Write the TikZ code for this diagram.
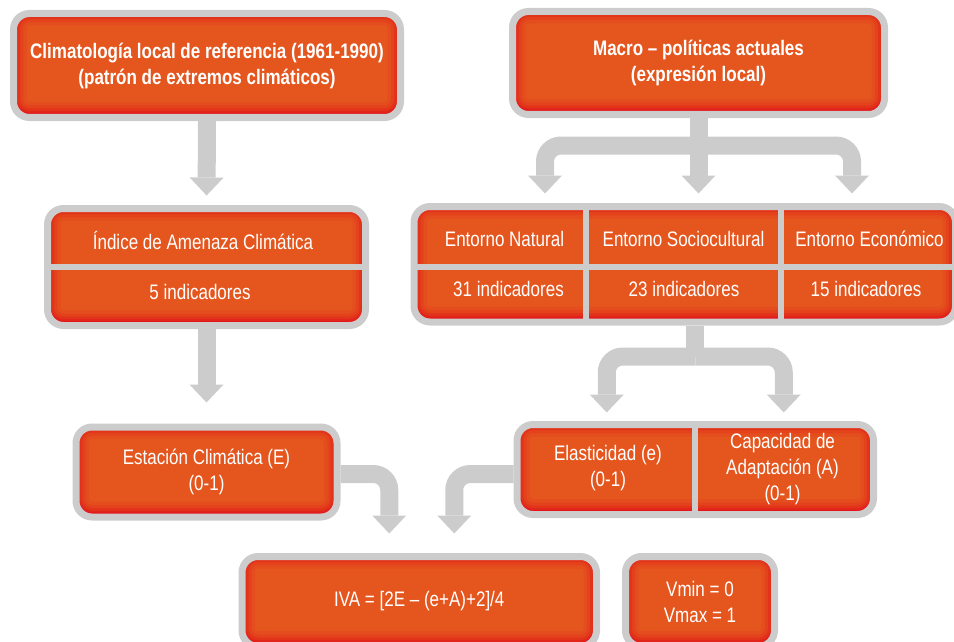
\documentclass[tikz,border=0pt]{standalone}
\usepackage{fontspec}
\setmainfont{Liberation Sans}[FakeStretch=0.81]
\definecolor{boxorange}{HTML}{E5561E}
\definecolor{boxred}{HTML}{E2001A}
\definecolor{boxgray}{HTML}{CCCCCC}
\usetikzlibrary{arrows.meta,positioning,calc}
\newcommand\cardfont{\fontsize{21}{26}\selectfont}

\tikzset{
  card/.style={draw=boxgray, line width=7pt, fill=boxorange, rounded corners=16pt,
    inner sep=0pt, text=white, align=center, font=\cardfont,
    path picture={
      \foreach \w/\o in {26/0.10,19/0.14,13/0.2,8/0.28,4/0.4}
        \draw[boxred, line width=\w pt, opacity=\o, rounded corners=16pt]
          ([yshift=2.5pt]path picture bounding box.south west) rectangle
          ([yshift=1pt]path picture bounding box.north east);
    }},
  celltext/.style={text=white, font=\cardfont, align=center},
  divline/.style={boxgray, line width=6pt},
  pipe/.style={draw=boxgray, line width=18pt, rounded corners=16pt},
  flow/.style={pipe, -{Triangle[width=34pt,length=18pt,line width=0pt]}, shorten >=9.5pt}
}

\begin{document}
\begin{tikzpicture}[x=1pt,y=-1pt]
  \useasboundingbox (0,0) rectangle (954,642);
  \clip (0,0) rectangle (954,642);
  % Top boxes
  \node[card, font=\cardfont\bfseries, minimum width=387pt, minimum height=104pt] (clima) at (207,65.5)
    {Climatología local de referencia (1961-1990)\\(patrón de extremos climáticos)};
  \node[card, font=\cardfont\bfseries, minimum width=372pt, minimum height=103pt] (macro) at (698.5,63)
    {Macro – políticas actuales\\(expresión local)};
  % Threat index box
  \node[card, minimum width=318pt, minimum height=117pt] (indice) at (206.5,267) {};
  \draw[divline] (indice.west) -- (indice.east);
  \node[celltext] (amenaza) at (203,240) {Índice de Amenaza Climática};
  \node[celltext] (ind5) at (200,292) {5 indicadores};
  % Environments box
  \node[card, minimum width=541.5pt, minimum height=115.5pt] (env) at (684.75,264.25) {};
  \draw[divline] (414,266.5) -- (955.5,266.5);
  \draw[divline] (586,206.5) -- (586,322);
  \draw[divline] (780.5,206.5) -- (780.5,322);
  \node[celltext] (natural) at (504.5,239) {Entorno Natural};
  \node[celltext] (socio) at (683.5,239) {Entorno Sociocultural};
  \node[celltext] (econ) at (869.5,239) {Entorno Económico};
  \node[celltext] (ind31) at (508.5,289) {31 indicadores};
  \node[celltext] (ind23) at (684,289) {23 indicadores};
  \node[celltext] (ind15) at (866,289) {15 indicadores};
  % Station box
  \node[card, minimum width=261pt, minimum height=90pt] (estacion) at (206.5,472)
    {Estación Climática (E)\\(0-1)};
  % Elasticity / adaptation box
  \node[card, minimum width=356.5pt, minimum height=90pt] (elast) at (695.25,469.5) {};
  \draw[divline] (elast.north) -- (elast.south);
  \node[celltext] (elastxt) at (608,468.5) {Elasticidad (e)\\(0-1)};
  \node[celltext] (adapt) at (782.5,469) {Capacidad de\\Adaptación (A)\\(0-1)};
  % Result boxes
  \node[card, minimum width=354.5pt, minimum height=90pt] (iva) at (419.25,601.5)
    {IVA = [2E – (e+A)+2]/4};
  \node[card, minimum width=149pt, minimum height=90pt] (vrange) at (700,601.5)
    {Vmin = 0\\Vmax = 1};
  % Arrows on the left
  \draw[flow] (clima.south) -- (indice.north);
  \draw[flow, shorten >=21pt] (indice.south) -- (estacion.north);
  % Branches from the policies box
  \path (macro.south |- env.north) coordinate (mt);
  \coordinate (mj) at ($(macro.south)+(0,27.5)$);
  \draw[flow] (macro.south) -- (mt);
  \draw[flow] (mj) -| ($(mt)+(-153.5,0)$);
  \draw[flow] (mj) -| ($(mt)+(153.5,0)$);
  % Branches from the environments box
  \path (elast.north |- env.south) coordinate (es);
  \coordinate (ej) at ($(es)+(0,31)$);
  \draw[pipe] (es) -- (ej);
  \draw[flow, shorten >=8.5pt] (ej) -| ($(elast.north)+(-88.5,0)$);
  \draw[flow, shorten >=8.5pt] (ej) -| ($(elast.north)+(88.5,0)$);
  % Into the index formula
  \draw[flow, shorten >=19.5pt] ($(estacion.east)+(0,2)$) -| ($(iva.north)+(-30,0)$);
  \draw[flow, shorten >=19.5pt] ($(elast.west)+(0,4.5)$) -| ($(iva.north)+(35,0)$);
\end{tikzpicture}
\end{document}
